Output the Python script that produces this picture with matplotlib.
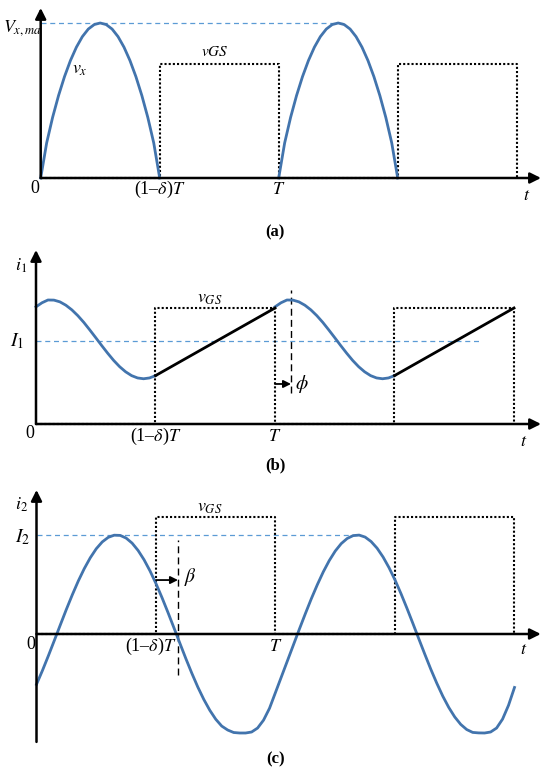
import matplotlib
matplotlib.use('Agg')
import matplotlib.pyplot as plt

plt.rcParams['font.family'] = ['Liberation Serif', 'DejaVu Serif']
plt.rcParams['mathtext.fontset'] = 'stix'

# tiempos en unidades de T
t_vx = [0.0, 0.025, 0.05, 0.075, 0.10, 0.125, 0.15, 0.175, 0.20, 0.225, 0.25,
        0.275, 0.30, 0.325, 0.35, 0.375, 0.40, 0.425, 0.45, 0.475, 0.50]
t_i1 = t_vx
t_i2 = [0.0, 0.025, 0.05, 0.075, 0.10, 0.125, 0.15, 0.175, 0.20, 0.225,
        0.25, 0.275, 0.30, 0.325, 0.35, 0.375, 0.40, 0.425, 0.45, 0.475,
        0.50, 0.525, 0.55, 0.575, 0.60, 0.625, 0.65, 0.675, 0.70, 0.725,
        0.75, 0.775, 0.80, 0.825, 0.85, 0.875, 0.90, 0.925, 0.95, 0.975,
        1.00, 1.025, 1.05, 1.075, 1.10, 1.125, 1.15, 1.175, 1.20, 1.225,
        1.25, 1.275, 1.30, 1.325, 1.35, 1.375, 1.40, 1.425, 1.45, 1.475,
        1.50, 1.525, 1.55, 1.575, 1.60, 1.625, 1.65, 1.675, 1.70, 1.725,
        1.75, 1.775, 1.80, 1.825, 1.85, 1.875, 1.90, 1.925, 1.95, 1.975, 2.00]

# (a) tension vx (por unidad de Vx,max)
vx = [0.0, 0.226, 0.391, 0.532, 0.654, 0.758, 0.844, 0.912, 0.961, 0.990, 1.0,
      0.990, 0.961, 0.912, 0.844, 0.758, 0.654, 0.532, 0.391, 0.226, 0.0]
# (b) corriente i1 (por unidad de vGS)
i1 = [1.01, 1.045, 1.069, 1.068, 1.053, 1.024, 0.984, 0.934, 0.876, 0.811, 0.744,
      0.676, 0.610, 0.548, 0.494, 0.450, 0.417, 0.397, 0.390, 0.397, 0.417]
i1_rampa_t = [0.5, 1.0]
i1_rampa = [0.417, 1.0]
I1 = 0.716
phi = 1.067
# (c) corriente i2 (por unidad de I2)
i2 = [-0.509, -0.368, -0.218, -0.063, 0.094, 0.249, 0.397, 0.536, 0.661, 0.770,
      0.861, 0.930, 0.976, 0.998, 0.996, 0.969, 0.918, 0.844, 0.750, 0.637,
      0.509, 0.368, 0.218, 0.063, -0.094, -0.249, -0.397, -0.536, -0.661, -0.770,
      -0.861, -0.930, -0.970, -0.995, -1.0, -1.0, -0.99, -0.95, -0.87, -0.75,
      -0.59, -0.43, -0.27, -0.11, 0.05, 0.206, 0.357, 0.498, 0.628, 0.742,
      0.838, 0.913, 0.965, 0.994, 0.999, 0.979, 0.934, 0.867, 0.778, 0.670,
      0.546, 0.408, 0.260, 0.106, -0.051, -0.206, -0.357, -0.498, -0.628, -0.742,
      -0.838, -0.913, -0.965, -0.994, -0.999, -1.0, -0.99, -0.95, -0.86, -0.72, -0.54]
I2 = 1.0
beta = 0.592
# pulso vGS
t_vgs = [0, 0.5, 0.5, 1, 1, 1.5, 1.5, 2, 2]
vgs = [0, 0, 1, 1, 0, 0, 1, 1, 0]
nivel_vgs = [0.735, 1.0, 1.18]

azul = '#4274ad'
azul_claro = '#5b9bd5'
W, H = 550, 776

fig = plt.figure(figsize=(5.5, 7.76), dpi=100)


def panel(top, bot, x0, tpx, y0, ypx):
    ax = fig.add_axes([0, 1 - bot / H, 1, (bot - top) / H])
    ax.set_xlim(-x0 / tpx, (W - x0) / tpx)
    ax.set_ylim((y0 - bot) / ypx, (y0 - top) / ypx)
    ax.axis('off')
    return ax


def ejes(ax, xtip, ytip, ybot=0):
    ax.annotate('', xy=(xtip, 0), xytext=(0, 0),
                arrowprops=dict(arrowstyle='-|>', lw=1.8, color='k', mutation_scale=16,
                                shrinkA=0, shrinkB=0))
    ax.annotate('', xy=(0, ytip), xytext=(0, ybot),
                arrowprops=dict(arrowstyle='-|>', lw=1.8, color='k', mutation_scale=16,
                                shrinkA=0, shrinkB=0))


def pulso(ax, nivel):
    ax.plot(t_vgs, [v * nivel for v in vgs], color='k', lw=1.5, ls=(0, (1, 1)), zorder=2)


def etiquetas_t(ax, y0, y1, yt, x_delta=0.5):
    ax.text(-0.025, y0, '0', ha='center', va='center', fontsize=13)
    ax.text(x_delta, y1, r'(1–$\delta$)$T$', ha='center', va='center', fontsize=13)
    ax.text(1.0, y1, r'$T$', ha='center', va='center', fontsize=13)
    ax.text(2.04, yt, r'$t$', ha='center', va='center', fontsize=13)


# (a)
ax = panel(0, 240, 40.7, 238, 178, 155)
ax.plot([0, 1.27], [1, 1], color=azul_claro, lw=0.9, ls=(0, (4, 3)))
pulso(ax, nivel_vgs[0])
ax.plot(t_vx, vx, color=azul, lw=2, zorder=3, solid_joinstyle='round')
ax.plot([1 + x for x in t_vx], vx, color=azul, lw=2, zorder=3, solid_joinstyle='round')
ejes(ax, 2.102, 1.097)
ax.text(0.006, 0.968, r'$V_{x,ma}$', ha='right', va='center', fontsize=13)
ax.text(0.165, 0.70, r'$v_x$', ha='center', va='center', fontsize=13)
ax.text(0.732, 0.81, r'$vGS$', ha='center', va='center', fontsize=11)
etiquetas_t(ax, -0.065, -0.077, -0.11)
ax.text(0.985, -0.35, '(a)', ha='center', va='center', fontsize=12, fontweight='bold')

# (b)
ax = panel(240, 470, 36, 239, 424, 116)
ax.plot([0, 1.853], [I1, I1], color=azul_claro, lw=0.9, ls=(0, (4, 3)))
pulso(ax, nivel_vgs[1])
ax.plot(t_i1, i1, color=azul, lw=2, zorder=3, solid_joinstyle='round')
ax.plot([1 + x for x in t_i1], i1, color=azul, lw=2, zorder=3, solid_joinstyle='round')
ax.plot(i1_rampa_t, i1_rampa, color='k', lw=2, zorder=3)
ax.plot([1 + x for x in i1_rampa_t], i1_rampa, color='k', lw=2, zorder=3)
ax.plot([phi, phi], [0.27, 1.155], color='k', lw=1, ls=(0, (5, 3)))
ax.annotate('', xy=(phi, 0.345), xytext=(1.0, 0.345),
            arrowprops=dict(arrowstyle='-|>', lw=1.3, color='k', mutation_scale=11,
                            shrinkA=0, shrinkB=0))
ejes(ax, 2.113, 1.5)
ax.text(1.113, 0.345, r'$\phi$', ha='center', va='center', fontsize=14)
ax.text(-0.063, 1.36, r'$i_1$', ha='center', va='center', fontsize=13)
ax.text(-0.08, I1, r'$I_1$', ha='center', va='center', fontsize=14)
ax.text(0.728, 1.08, r'$v_{GS}$', ha='center', va='center', fontsize=13)
etiquetas_t(ax, -0.086, -0.11, -0.155)
ax.text(1.0, -0.355, '(b)', ha='center', va='center', fontsize=12, fontweight='bold')

# (c)
ax = panel(470, 776, 36.5, 239, 634, 99)
ax.plot([0, 1.35], [I2, I2], color=azul_claro, lw=0.9, ls=(0, (4, 3)))
pulso(ax, nivel_vgs[2])
ax.plot(t_i2, i2, color=azul, lw=2, zorder=3, solid_joinstyle='round')
ax.plot([beta, beta], [-0.41, 0.95], color='k', lw=1, ls=(0, (5, 3)))
ax.annotate('', xy=(beta, 0.545), xytext=(0.5, 0.545),
            arrowprops=dict(arrowstyle='-|>', lw=1.3, color='k', mutation_scale=11,
                            shrinkA=0, shrinkB=0))
ejes(ax, 2.11, 1.455, -1.09)
ax.text(0.645, 0.58, r'$\beta$', ha='center', va='center', fontsize=14)
ax.text(-0.063, 1.30, r'$i_2$', ha='center', va='center', fontsize=13)
ax.text(-0.06, 0.98, r'$I_2$', ha='center', va='center', fontsize=14)
ax.text(0.726, 1.28, r'$v_{GS}$', ha='center', va='center', fontsize=13)
etiquetas_t(ax, -0.11, -0.13, -0.16, x_delta=0.479)
ax.text(1.0, -1.27, '(c)', ha='center', va='center', fontsize=12, fontweight='bold')

fig.savefig('out.png', dpi=100)
